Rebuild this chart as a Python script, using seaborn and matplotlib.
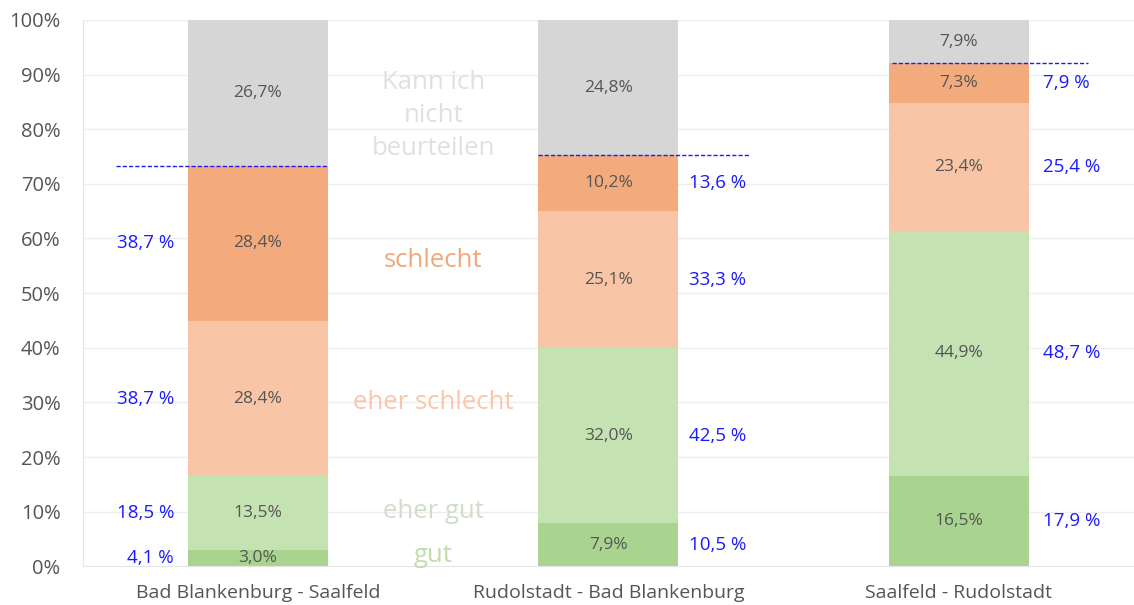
import numpy as np
import pandas as pd
import seaborn as sns
import matplotlib.pyplot as plt

# Strecken und Antworten (Anteile in %)
routes = ["Bad Blankenburg - Saalfeld", "Rudolstadt - Bad Blankenburg", "Saalfeld - Rudolstadt"]
answers = ["gut", "eher gut", "eher schlecht", "schlecht", "Kann ich nicht beurteilen"]
gut = [3.0, 7.9, 16.5]
eher_gut = [13.5, 32.0, 44.9]
eher_schlecht = [28.4, 25.1, 23.4]
schlecht = [28.4, 10.2, 7.3]
kann_nicht = [26.7, 24.8, 7.9]
# Anteile ohne "kann ich nicht beurteilen"
gut_rel = ["4,1 %", "10,5 %", "17,9 %"]
eher_gut_rel = ["18,5 %", "42,5 %", "48,7 %"]
eher_schlecht_rel = ["38,7 %", "33,3 %", "25,4 %"]
schlecht_rel = ["38,7 %", "13,6 %", "7,9 %"]

colors = ["#a9d48f", "#c4e2b2", "#f8c6a6", "#f3aa7c", "#d6d6d6"]
legend_colors = ["#c2dcae", "#d2dccb", "#f9c6a8", "#f2a77a", "#e0e0e0"]
order = [routes[0], " ", routes[1], "  ", routes[2]]

df = pd.DataFrame({"Strecke": routes, "gut": gut, "eher gut": eher_gut,
                   "eher schlecht": eher_schlecht, "schlecht": schlecht,
                   "Kann ich nicht beurteilen": kann_nicht})
cum = df[answers].cumsum(axis=1)
cum["Strecke"] = df["Strecke"]

sns.set_style("white")
plt.rcParams["font.family"] = ["Open Sans", "DejaVu Sans"]

fig = plt.figure(figsize=(11.34, 6.05), dpi=100)
ax = fig.add_axes([0.073, 0.064, 0.927, 0.903])

for y in range(10, 101, 10):
    ax.axhline(y, color="#eeeeee", lw=1, zorder=0)

# gestapelt: groesste kumulierte Werte zuerst zeichnen
for ans, col in reversed(list(zip(answers, colors))):
    sns.barplot(data=cum, x="Strecke", y=ans, order=order, color=col,
                saturation=1, width=0.8, linewidth=0, ax=ax, zorder=2)

# Werte in den Balken
for i, r in enumerate(routes):
    xpos = order.index(r)
    bottom = 0
    for ans in answers:
        v = df.loc[i, ans]
        ax.text(xpos, bottom + v / 2, f"{v:.1f}%".replace(".", ","), ha="center",
                va="center", fontsize=12.5, color="#555555", zorder=3)
        bottom += v

# blaue Anteile ohne "kann nicht beurteilen"
rel = [gut_rel, eher_gut_rel, eher_schlecht_rel, schlecht_rel]
label_x = [(-0.48, "right"), (2.46, "left"), (4.48, "left")]
line_x = [(-0.81, 0.40), (1.60, 2.80), (3.62, 4.74)]
for i, r in enumerate(routes):
    bottom = 0
    for ans, labs in zip(answers[:4], rel):
        v = df.loc[i, ans]
        lx, ha = label_x[i]
        ax.text(lx, bottom + v / 2, labs[i], ha=ha, va="center",
                fontsize=13.5, color="#1a1aff", zorder=3)
        bottom += v
    ax.plot(line_x[i], [bottom, bottom], color="#1a1aff", lw=1,
            ls=(0, (3, 1.5)), zorder=4)

# Legende als Text zwischen den Balken
legend_y = [2.0, 10.0, 30.0, 56.0, 82.5]
legend_txt = ["gut", "eher gut", "eher schlecht", "schlecht", "Kann ich\nnicht\nbeurteilen"]
for t, yy, c in zip(legend_txt, legend_y, legend_colors):
    ax.text(1, yy, t, ha="center", va="center", fontsize=18.5, color=c,
            linespacing=1.4, zorder=3)

ax.set_xlim(-1.0, 5.0)
ax.set_ylim(0, 100)
ax.set_yticks(range(0, 101, 10))
ax.set_yticklabels([f"{v}%" for v in range(0, 101, 10)])
ax.set_xlabel("")
ax.set_ylabel("")
ax.tick_params(axis="y", labelsize=14.5, labelcolor="#555555", length=0, pad=16)
ax.tick_params(axis="x", labelsize=14, labelcolor="#555555", length=0, pad=13)
for s in ["top", "right"]:
    ax.spines[s].set_visible(False)
for s in ["left", "bottom"]:
    ax.spines[s].set_color("#e6e6e6")

fig.savefig("out.png", dpi=100)
